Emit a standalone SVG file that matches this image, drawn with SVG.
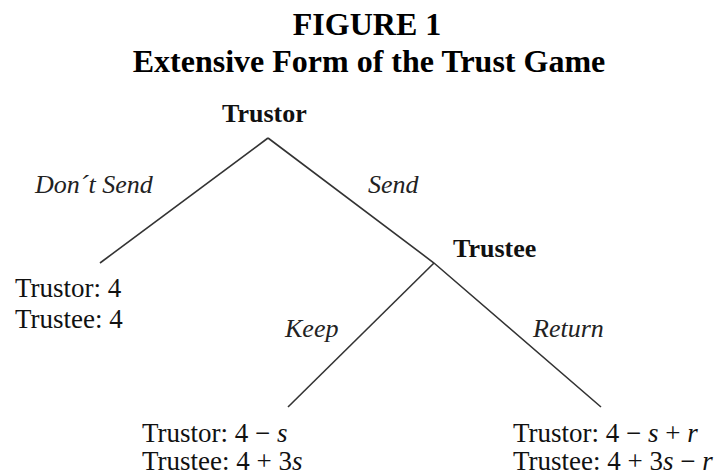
<svg xmlns="http://www.w3.org/2000/svg" width="717" height="475" viewBox="0 0 717 475">
<style>
.title{font-family:"Liberation Serif","Times New Roman",serif;font-weight:bold;font-size:32px;fill:#000;text-anchor:middle}
.player{font-family:"Liberation Serif","Times New Roman",serif;font-weight:bold;font-size:26px;fill:#111}
.act{font-family:"Liberation Serif","Times New Roman",serif;font-style:italic;font-size:26px;fill:#222}
.pay{font-family:"Liberation Serif","Times New Roman",serif;font-size:27px;fill:#111}
.v{font-style:italic}
.edge{stroke:#333;stroke-width:1.6;fill:none}
</style>
<rect width="717" height="475" fill="#fff"/>
<g id="title">
<text class="title" x="367" y="35">FIGURE 1</text>
<text class="title" x="369" y="72">Extensive Form of the Trust Game</text>
</g>
<g id="connectors">
<line class="edge" x1="268" y1="138" x2="100" y2="263"/>
<polyline class="edge" points="268,138 434,263 601,407"/>
<line class="edge" x1="434" y1="263" x2="288" y2="407"/>
</g>
<g id="node-trustor">
<text class="player" x="222" y="122">Trustor</text>
</g>
<g id="node-trustee">
<text class="player" x="453" y="257">Trustee</text>
</g>
<g id="labels">
<text class="act" x="35" y="193">Don´t Send</text>
<text class="act" x="368" y="193">Send</text>
<text class="act" x="285" y="337">Keep</text>
<text class="act" x="533" y="337">Return</text>
</g>
<g id="node-leaf-dontsend">
<text class="pay" x="15" y="297">Trustor: 4</text>
<text class="pay" x="15" y="328">Trustee: 4</text>
</g>
<g id="node-leaf-keep">
<text class="pay" x="142" y="442">Trustor:  4 − <tspan class="v">s</tspan></text>
<text class="pay" x="142" y="470">Trustee:  4 + 3<tspan class="v">s</tspan></text>
</g>
<g id="node-leaf-return">
<text class="pay" x="513" y="442">Trustor:  4 − <tspan class="v">s</tspan> + <tspan class="v">r</tspan></text>
<text class="pay" x="513" y="470">Trustee:  4 + 3<tspan class="v">s</tspan> − <tspan class="v">r</tspan></text>
</g>
</svg>
